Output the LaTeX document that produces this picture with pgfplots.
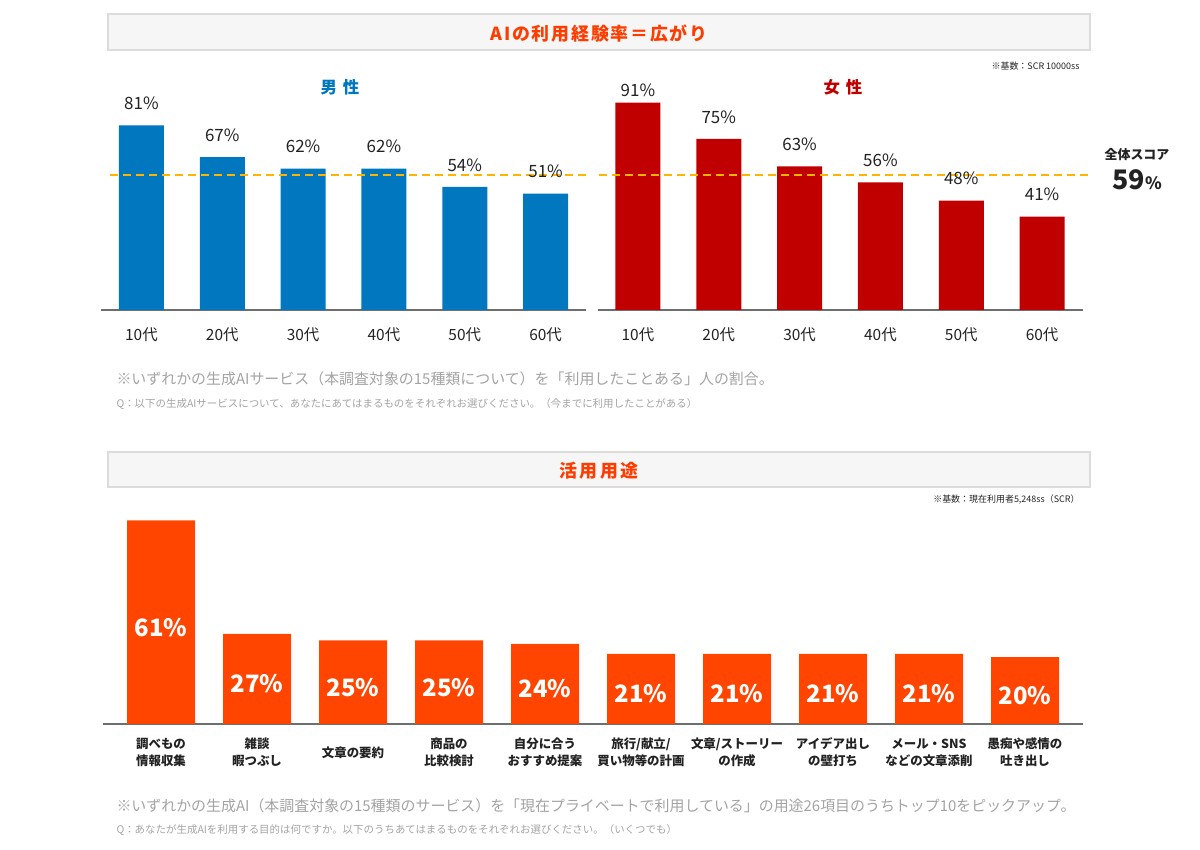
\documentclass[border=0pt]{standalone}
\usepackage{fontspec}
\setmainfont{Noto Sans CJK JP}
\usepackage{pgfplots}
\pgfplotsset{compat=1.18}
\usepackage{pgfplotstable}
\definecolor{maleblue}{HTML}{0077BE}
\definecolor{femred}{HTML}{C00000}
\definecolor{useorange}{HTML}{FF4500}
\definecolor{titleorange}{HTML}{FF3C00}
\definecolor{avgline}{HTML}{FFB400}
\definecolor{notegray}{HTML}{A3A3A3}
\definecolor{axisgray}{HTML}{6E6E6E}
\definecolor{boxfill}{HTML}{F6F6F6}
\definecolor{boxline}{HTML}{DCDCDC}
\definecolor{labtext}{HTML}{222222}

\pgfplotstableread{
x v dy
0 81 12
1 67 12
2 62 12
3 62 12
4 54 12
5 51 12
}\maletab
\pgfplotstableread{
x v dy
0 91 2
1 75 12
2 63 12
3 56 12
4 48 12
5 41 12
}\femtab
\pgfplotstableread{
x v
0 61
1 27
2 25
3 25
4 24
5 21
6 21
7 21
8 21
9 20
}\usetab

\pgfplotsset{
  /pgf/number format/assume math mode=true,
  agestyle/.style={
    scale only axis, width=485bp, height=228bp,
    xmin=-0.5, xmax=5.5, ymin=0, ymax=100,
    axis x line=bottom, axis y line=none,
    x axis line style={-, draw=axisgray, line width=1.5bp},
    xtick={0,...,5}, xticklabels={10代,20代,30代,40代,50代,60代},
    major tick length=0pt,
    xticklabel style={font=\fontsize{15.5}{18}\selectfont, text=labtext, yshift=-14bp},
    clip=false, anchor=south west,
  },
  agebars/.style={
    ybar, bar width=45bp, draw=none, fill=#1,
    nodes near coords={\pgfmathprintnumber[assume math mode=true]{\pgfplotspointmeta}\%},
    point meta=explicit,
    visualization depends on={\thisrow{dy} \as \dy},
    every node near coord/.append style={font=\fontsize{17}{20}\selectfont, text=labtext, anchor=south, yshift=\dy bp},
  },
  avgstyle/.style={draw=avgline, color=avgline, line width=2bp, dash pattern=on 8bp off 5bp, mark=none},
}

\begin{document}
\begin{tikzpicture}
\path[use as bounding box] (0,0) rectangle (1200bp,850bp);

% ---------- top section ----------
\draw[boxline, fill=boxfill, line width=1.5bp] (108bp,800bp) rectangle (1090bp,836bp);
\node[font=\bfseries\fontsize{18}{20}\selectfont\addfontfeature{LetterSpace=10}, text=titleorange] at (599bp,816.5bp) {AIの利用経験率＝広がり};
\node[anchor=east, font=\fontsize{9}{10}\selectfont, text=labtext] at (1083bp,784bp) {※基数：SCR 10000ss};
\node[font=\bfseries\fontsize{16.5}{18}\selectfont, text=maleblue] at (340bp,763bp) {男\hspace{0.35em}性};
\node[font=\bfseries\fontsize{16.5}{18}\selectfont, text=femred] at (843bp,763bp) {女\hspace{0.35em}性};

\begin{axis}[agestyle, at={(101bp,540bp)}]
  \addplot[agebars=maleblue] table[x=x, y=v, meta=v] {\maletab};
  \addplot[avgstyle] coordinates {(-0.39,59) (5.55,59)};
\end{axis}

\begin{axis}[agestyle, at={(597.5bp,540bp)}]
  \addplot[agebars=femred] table[x=x, y=v, meta=v] {\femtab};
  \addplot[avgstyle] coordinates {(-0.48,59) (5.58,59)};
\end{axis}

\node[font=\bfseries\fontsize{13}{15}\selectfont, text=labtext] at (1137bp,695bp) {全体スコア};
\node[font=\bfseries\fontsize{27}{30}\selectfont, text=labtext] at (1137bp,670bp) {59{\fontsize{17}{20}\selectfont\%}};

\node[anchor=west, font=\fontsize{15}{17}\selectfont, text=notegray] at (113bp,471bp) {※いずれかの生成AIサービス（本調査対象の15種類について）を「利用したことある」人の割合。};
\node[anchor=west, font=\fontsize{10.5}{12}\selectfont, text=notegray] at (113bp,446bp) {Q：以下の生成AIサービスについて、あなたにあてはまるものをそれぞれお選びください。（今までに利用したことがある）};

% ---------- bottom section ----------
\draw[boxline, fill=boxfill, line width=1.5bp] (108bp,363bp) rectangle (1090bp,398bp);
\node[font=\bfseries\fontsize{18}{20}\selectfont, text=titleorange] at (599bp,379.5bp) {活\hspace{0.12em}用\hspace{0.12em}用\hspace{0.12em}途};
\node[anchor=east, font=\fontsize{9}{10}\selectfont, text=labtext] at (1083bp,350bp) {※基数：現在利用者5,248ss（SCR）};

\begin{axis}[
  scale only axis, width=979.2bp, height=233.8bp,
  at={(103.4bp,126bp)}, anchor=south west,
  xmin=-0.6, xmax=9.6, ymin=0, ymax=70,
  axis x line=bottom, axis y line=none,
  x axis line style={-, draw=axisgray, line width=2bp},
  xtick={0,...,9},
  xticklabels={{調べもの\\情報収集},{雑談\\暇つぶし},{文章の要約},{商品の\\比較検討},{自分に合う\\おすすめ提案},{旅行/献立/\\買い物等の計画},{文章/ストーリー\\の作成},{アイデア出し\\の壁打ち},{メール・SNS\\などの文章添削},{愚痴や感情の\\吐き出し}},
  major tick length=0pt,
  xticklabel style={font=\bfseries\fontsize{12.5}{17}\selectfont, text=labtext, align=center, anchor=center, yshift=-28.5bp},
  clip=false,
]
  \addplot[ybar, bar width=68bp, draw=none, fill=useorange] table[x=x, y=v] {\usetab};
  \addplot[draw=none, mark=none,
    nodes near coords={\pgfmathprintnumber[assume math mode=true]{\pgfplotspointmeta}\%},
    point meta=explicit,
    every node near coord/.append style={font=\bfseries\fontsize{24}{26}\selectfont, text=white, anchor=center, yshift=-5bp}]
    table[x=x, y expr=\thisrow{v}/2, meta=v] {\usetab};
\end{axis}

\node[anchor=west, font=\fontsize{15}{17}\selectfont, text=notegray] at (113bp,44bp) {※いずれかの生成AI（本調査対象の15種類のサービス）を「現在プライベートで利用している」の用途26項目のうちトップ10をピックアップ。};
\node[anchor=west, font=\fontsize{10.5}{12}\selectfont, text=notegray] at (113bp,20bp) {Q：あなたが生成AIを利用する目的は何ですか。以下のうちあてはまるものをそれぞれお選びください。（いくつでも）};
\end{tikzpicture}
\end{document}
